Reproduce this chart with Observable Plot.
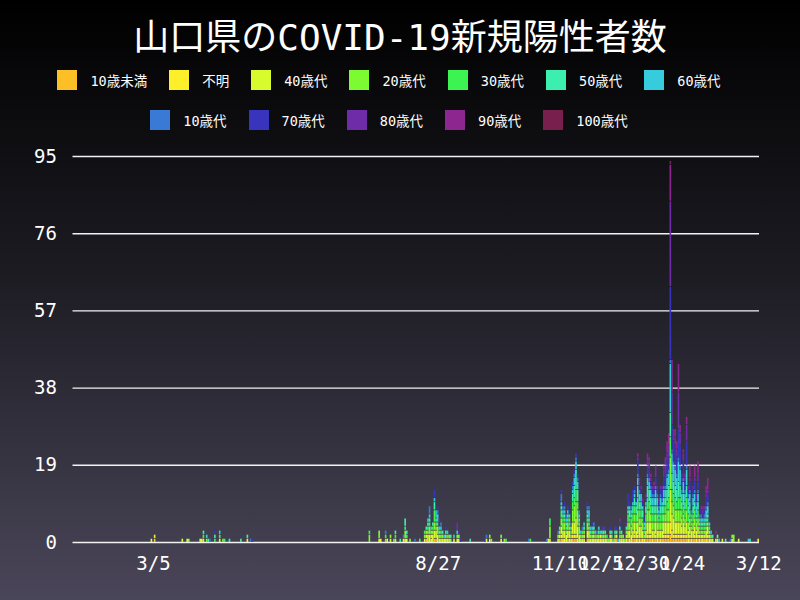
<!DOCTYPE html>
<html><head><meta charset="utf-8">
<script src="https://cdn.jsdelivr.net/npm/d3@7"></script>
<script src="https://cdn.jsdelivr.net/npm/@observablehq/plot@0.6"></script>
<style>
body{margin:0;width:800px;height:600px;overflow:hidden;background:linear-gradient(to bottom,#000000 0%,#1c1b22 45%,#4a4659 100%);font-family:"DejaVu Sans Mono","Noto Sans CJK JP",monospace;color:#fff;position:relative}
#title{position:absolute;top:18px;left:0;width:800px;text-align:center;font-size:36px;line-height:40px;white-space:nowrap}
.row{position:absolute;left:0;width:800px;display:flex;justify-content:center;align-items:center;height:20px}
.item{display:flex;align-items:center;margin-right:22px;font-size:13.5px}
.sw{width:20px;height:20px;margin-right:13px}
#chart{position:absolute;top:140px;left:0}
</style></head><body>
<div id="title">山口県のCOVID-19新規陽性者数</div>
<div class="row" id="leg1" style="top:70px"></div>
<div class="row" id="leg2" style="top:110px"></div>
<div id="chart"></div>
<script>
const groups = ["10歳未満","不明","40歳代","20歳代","30歳代","50歳代","60歳代","10歳代","70歳代","80歳代","90歳代","100歳代"];
const colors = ["#fcbf26","#fdf02a","#d7fb2c","#7cfa32","#3bf452","#3cefae","#37cbde","#3a79d4","#3934bd","#6e2ca8","#8e2690","#781f4e"];
const yTicks = [0,19,38,57,76,95];
const xTicks = ["2020-03-05","2020-08-27","2020-11-10","2020-12-05","2020-12-30","2021-01-24","2021-03-12"];
const firstDay = "2020-01-16", lastDay = "2021-03-12";

// each row: date, then counts in the order of `groups`
const spring2020 = [
["2020-03-04",0,1,0,0,0,0,0,0,0,0,0,0],
["2020-03-06",1,0,1,0,0,0,0,0,0,0,0,0],
["2020-03-23",0,0,1,0,0,0,0,0,0,0,0,0],
["2020-03-26",0,0,1,0,0,0,0,0,0,0,0,0],
["2020-03-27",0,0,0,1,0,0,0,0,0,0,0,0],
["2020-04-03",0,0,1,0,0,0,0,0,0,0,0,0],
["2020-04-04",0,0,1,0,0,0,0,0,0,0,0,0],
["2020-04-05",0,0,1,0,1,1,0,0,0,0,0,0],
["2020-04-07",0,0,0,1,0,0,1,0,0,0,0,0],
["2020-04-08",0,0,0,0,0,1,0,0,0,0,0,0],
["2020-04-09",0,0,0,0,0,0,0,1,0,0,0,0],
["2020-04-12",0,0,0,0,1,1,0,0,1,0,0,0],
["2020-04-15",0,0,1,0,1,0,1,0,0,0,0,0],
["2020-04-17",0,0,0,1,0,0,0,0,0,0,0,0],
["2020-04-18",0,0,0,0,1,0,0,0,0,0,0,0],
["2020-04-21",0,0,0,0,0,1,0,0,0,0,0,0],
["2020-04-28",0,0,0,0,0,1,0,0,0,0,0,0],
["2020-05-02",0,1,0,0,0,1,0,0,0,0,0,0],
["2020-05-04",0,0,0,0,0,0,0,1,0,0,0,0],
["2020-05-05",0,0,0,0,0,0,0,0,1,0,0,0]];

const summer2020 = [
["2020-07-16",0,0,0,2,1,0,0,0,0,0,0,0],
["2020-07-22",0,0,1,2,0,0,0,0,0,0,0,0],
["2020-07-23",0,0,1,0,0,0,0,0,0,0,0,0],
["2020-07-26",0,0,0,1,1,0,0,1,0,0,0,0],
["2020-07-27",0,1,0,0,0,0,0,0,0,0,0,0],
["2020-07-29",0,0,1,1,0,0,0,0,0,0,0,0],
["2020-07-31",0,0,0,0,1,0,0,0,0,0,0,0],
["2020-08-01",0,0,1,0,1,1,0,0,0,0,0,0],
["2020-08-04",0,0,0,0,0,1,0,0,0,0,0,0],
["2020-08-06",0,1,0,0,0,0,0,1,0,0,0,0],
["2020-08-07",0,0,1,2,1,2,0,0,0,0,0,0],
["2020-08-08",0,0,1,0,1,1,0,0,0,0,0,0],
["2020-08-10",0,0,0,1,0,0,0,0,0,0,0,0],
["2020-08-13",0,0,0,0,0,0,0,1,0,0,0,0],
["2020-08-16",0,0,0,0,1,0,0,0,0,0,0,0],
["2020-08-19",0,0,1,1,1,0,0,0,0,0,0,0],
["2020-08-20",1,0,1,1,0,1,0,0,0,0,0,0],
["2020-08-21",0,0,2,1,1,1,1,0,0,0,0,0],
["2020-08-22",0,0,2,2,1,1,1,2,0,0,0,0],
["2020-08-23",0,1,1,1,0,0,1,0,0,0,0,0],
["2020-08-24",0,0,2,1,1,1,0,0,0,0,0,0],
["2020-08-25",1,0,2,2,3,2,1,0,2,0,0,0],
["2020-08-26",1,0,2,1,1,1,2,0,0,0,0,0],
["2020-08-27",0,0,2,2,1,0,2,1,1,0,0,0],
["2020-08-28",0,0,1,1,0,1,1,0,1,1,0,0],
["2020-08-29",0,0,1,1,1,0,1,1,0,0,0,0],
["2020-08-30",0,0,1,1,0,1,0,0,0,0,0,0],
["2020-08-31",0,0,1,0,0,0,1,0,0,0,0,0],
["2020-09-01",0,0,1,1,0,1,0,0,1,0,0,0],
["2020-09-02",0,0,1,0,1,0,1,0,0,0,0,0],
["2020-09-03",0,0,1,1,0,0,0,0,0,0,0,0],
["2020-09-04",0,0,0,1,0,1,0,0,0,0,0,0],
["2020-09-06",0,0,1,0,0,0,1,0,0,0,0,0],
["2020-09-08",0,0,1,1,0,0,1,0,0,2,0,0],
["2020-09-09",0,0,1,1,0,0,0,0,1,0,0,0],
["2020-09-10",0,0,0,0,0,0,0,0,1,0,0,0]];

const autumn2020 = [
["2020-09-16",0,0,0,0,0,1,0,0,0,0,0,0],
["2020-09-25",0,0,0,0,0,0,0,0,1,0,0,0],
["2020-09-26",0,0,1,0,0,0,0,1,0,0,0,0],
["2020-09-28",0,1,0,1,0,0,0,0,0,0,0,0],
["2020-09-29",0,0,0,1,0,0,0,0,0,0,0,0],
["2020-10-05",0,0,1,1,0,0,0,0,0,0,0,0],
["2020-10-07",0,0,0,1,0,0,0,0,0,0,0,0],
["2020-10-08",0,0,0,0,1,0,0,0,0,0,0,0],
["2020-10-22",0,0,0,0,0,0,0,1,0,0,0,0],
["2020-10-23",0,0,0,0,1,0,0,0,0,0,0,0]];

const nov2020 = [
["2020-11-02",0,0,0,0,0,0,0,1,0,0,0,0],
["2020-11-03",0,0,1,0,0,0,0,0,0,0,0,0],
["2020-11-04",0,0,1,3,2,0,0,0,0,0,0,0],
["2020-11-09",0,0,1,1,0,0,0,1,0,0,0,0],
["2020-11-10",1,0,1,1,0,1,0,0,0,0,0,0],
["2020-11-11",1,1,2,2,2,1,1,2,1,0,0,0],
["2020-11-12",0,1,2,2,1,1,1,1,0,0,0,0],
["2020-11-13",0,1,2,2,1,1,1,1,1,0,0,0],
["2020-11-14",0,0,2,1,1,1,1,1,0,0,0,0],
["2020-11-15",1,0,2,2,1,1,1,0,1,0,0,0],
["2020-11-16",0,1,2,1,1,1,1,0,1,0,0,0],
["2020-11-17",0,0,1,1,1,1,0,1,0,0,0,0],
["2020-11-18",1,1,3,3,2,2,1,1,1,0,0,0],
["2020-11-19",1,1,3,4,2,3,2,1,1,0,0,0],
["2020-11-20",1,1,4,4,3,5,2,1,1,0,0,0],
["2020-11-21",0,1,3,4,2,3,2,1,1,0,0,0],
["2020-11-22",0,0,2,2,1,1,1,1,0,0,0,0],
["2020-11-23",0,0,1,1,0,0,1,0,0,0,0,0],
["2020-11-24",0,0,1,1,1,0,0,1,0,0,0,0],
["2020-11-25",0,1,1,1,0,1,1,0,0,0,0,0],
["2020-11-27",1,0,2,2,1,1,1,1,1,0,0,0],
["2020-11-28",0,1,2,1,1,1,2,1,0,0,0,0],
["2020-11-29",0,0,1,1,0,1,1,0,0,0,0,0],
["2020-11-30",0,0,1,1,1,0,1,0,1,0,0,0]];

const dec2020 = [
["2020-12-01",0,1,1,1,0,1,0,1,0,0,0,0],
["2020-12-02",0,0,1,0,1,0,1,0,0,0,0,0],
["2020-12-03",0,0,1,1,0,0,0,1,0,0,0,0],
["2020-12-04",0,0,1,1,0,1,1,0,0,0,0,0],
["2020-12-05",0,1,1,0,0,0,1,0,0,0,0,0],
["2020-12-06",0,0,1,1,0,1,0,0,1,0,0,0],
["2020-12-07",0,0,1,1,0,1,0,0,0,0,1,0],
["2020-12-08",0,0,1,1,0,1,0,0,1,0,0,0],
["2020-12-09",0,0,1,0,1,0,0,0,0,0,0,0],
["2020-12-10",0,0,0,1,0,0,0,0,0,0,0,0],
["2020-12-11",0,1,1,0,0,1,0,0,1,0,0,0],
["2020-12-12",0,0,1,0,0,1,1,0,0,0,0,0],
["2020-12-13",0,0,0,0,1,0,0,0,0,0,0,0],
["2020-12-14",0,0,1,1,0,1,0,0,0,1,0,0],
["2020-12-15",1,0,1,0,0,1,0,0,1,0,0,0],
["2020-12-16",0,0,0,0,0,0,1,0,0,0,0,0],
["2020-12-17",0,0,1,1,1,1,0,0,1,0,1,0],
["2020-12-18",0,0,1,1,0,1,0,0,1,0,0,0],
["2020-12-19",0,0,1,1,0,0,0,0,0,0,0,0],
["2020-12-20",0,0,0,1,0,0,0,0,0,0,0,0],
["2020-12-21",0,1,1,1,0,1,0,0,0,1,0,0],
["2020-12-22",1,0,2,2,2,1,1,0,3,0,0,0],
["2020-12-23",0,1,2,2,1,2,1,0,1,0,0,0],
["2020-12-24",0,0,2,2,2,1,1,1,0,0,0,0],
["2020-12-25",1,0,2,2,2,2,1,0,3,0,0,0],
["2020-12-26",1,1,3,2,2,2,1,1,1,0,0,0],
["2020-12-27",0,1,2,2,2,2,1,0,1,0,0,0],
["2020-12-28",1,1,3,3,3,3,2,1,3,1,1,0],
["2020-12-29",0,1,3,2,2,2,2,1,1,1,1,0],
["2020-12-30",1,0,3,2,2,2,2,0,1,1,0,0],
["2020-12-31",0,1,2,2,1,2,1,0,1,1,0,0]];

const jan2021 = [
["2021-01-01",0,0,1,1,1,1,1,0,1,0,0,0],
["2021-01-02",1,0,2,2,2,2,1,0,1,1,0,0],
["2021-01-03",1,1,3,3,3,3,2,1,2,1,2,0],
["2021-01-04",1,1,3,3,2,3,2,1,2,2,1,0],
["2021-01-05",1,1,3,2,2,2,2,1,1,1,1,0],
["2021-01-06",0,1,2,2,2,2,2,1,1,1,0,0],
["2021-01-07",1,0,2,2,2,2,2,1,1,1,1,0],
["2021-01-08",1,1,3,2,2,2,2,1,2,3,0,0],
["2021-01-09",0,1,2,2,2,2,2,1,1,1,0,0],
["2021-01-10",1,0,2,2,1,1,1,1,1,1,0,0],
["2021-01-11",0,1,2,2,2,2,2,1,1,1,0,0],
["2021-01-12",1,0,2,2,2,2,1,1,2,1,0,0],
["2021-01-13",1,1,3,2,2,2,2,1,2,2,1,0],
["2021-01-14",1,1,3,2,2,2,2,1,3,2,2,0],
["2021-01-15",1,1,3,3,2,3,3,1,3,2,3,0],
["2021-01-16",1,1,3,3,3,3,3,1,3,3,3,0],
["2021-01-17",2,3,8,8,5,6,12,1,18,21,9,1],
["2021-01-18",1,2,4,3,3,4,5,1,6,8,8,0],
["2021-01-19",1,1,4,3,3,3,4,1,5,3,0,0],
["2021-01-20",1,1,3,3,3,3,4,1,5,2,2,0],
["2021-01-21",1,1,3,3,2,3,3,1,4,2,2,0],
["2021-01-22",1,1,3,3,3,4,5,1,7,9,7,0],
["2021-01-23",1,1,3,3,3,3,4,1,5,3,2,0],
["2021-01-24",1,1,2,2,2,2,2,1,2,1,1,0],
["2021-01-25",1,1,3,2,2,3,3,1,4,2,1,0],
["2021-01-26",1,1,2,2,2,2,2,1,2,1,1,0],
["2021-01-27",1,1,3,3,3,3,4,1,6,4,2,0],
["2021-01-28",0,1,2,2,2,2,2,1,1,1,0,0],
["2021-01-29",1,1,2,2,2,2,2,1,2,1,3,0],
["2021-01-30",0,1,2,1,1,1,1,1,1,1,1,0],
["2021-01-31",1,0,2,2,2,2,2,1,1,1,0,0]];

const febmar2021 = [
["2021-02-01",1,1,2,2,2,2,2,1,2,1,3,0],
["2021-02-02",0,1,2,2,1,1,2,1,1,1,0,0],
["2021-02-03",1,1,2,2,2,2,2,1,2,2,3,0],
["2021-02-04",0,1,1,1,1,1,1,1,1,0,0,0],
["2021-02-05",1,0,1,1,1,1,1,1,1,1,0,0],
["2021-02-06",0,1,1,1,1,1,1,0,1,1,1,0],
["2021-02-07",1,0,1,1,1,1,1,1,1,1,0,0],
["2021-02-08",0,1,2,1,1,1,2,1,2,1,2,0],
["2021-02-09",1,1,2,1,1,1,2,1,2,1,3,0],
["2021-02-10",0,1,1,1,1,0,1,0,1,0,0,0],
["2021-02-11",0,0,1,1,0,0,1,0,0,0,0,0],
["2021-02-12",0,0,1,0,0,1,0,0,0,0,0,0],
["2021-02-14",0,0,1,0,0,0,0,0,1,0,1,0],
["2021-02-15",0,0,1,1,0,0,0,0,0,0,0,0],
["2021-02-16",0,0,0,0,0,0,1,0,0,0,0,0],
["2021-02-18",0,0,1,0,0,0,0,0,0,0,0,0],
["2021-02-20",0,0,0,0,0,1,0,0,0,0,0,0],
["2021-02-23",0,0,0,0,0,0,0,1,0,0,0,0],
["2021-02-24",0,0,1,1,0,0,0,0,0,0,0,0],
["2021-02-25",0,0,0,2,0,0,0,0,0,0,0,0],
["2021-02-28",0,0,1,0,0,0,0,0,0,0,0,0],
["2021-03-06",0,0,0,0,0,0,1,0,0,0,0,0],
["2021-03-07",0,0,0,0,0,1,0,0,0,0,0,0],
["2021-03-12",0,1,0,0,0,0,0,0,0,0,0,0]];

// legend
function addItem(row, i){
  const it = document.createElement("div"); it.className = "item";
  const sw = document.createElement("div"); sw.className = "sw"; sw.style.background = colors[i];
  const tx = document.createElement("span"); tx.textContent = groups[i];
  it.appendChild(sw); it.appendChild(tx); row.appendChild(it);
}
const leg1 = document.getElementById("leg1"), leg2 = document.getElementById("leg2");
groups.forEach((g,i) => addItem(i < 7 ? leg1 : leg2, i));

const fmt = d3.utcFormat("%Y-%m-%d");
const allDays = d3.utcDay.range(new Date(firstDay+"T00:00:00Z"), new Date(lastDay+"T00:00:01Z")).map(fmt);
const rows = [...spring2020, ...summer2020, ...autumn2020, ...nov2020, ...dec2020, ...jan2021, ...febmar2021];
const data = rows.flatMap(([day, ...counts]) => counts.map((c,i) => ({day, group: groups[i], count: c}))).filter(d => d.count > 0);
const md = s => { const [y,m,d] = s.split("-"); return `${+m}/${+d}`; };

const chart = Plot.plot({
  width: 800, height: 460,
  marginLeft: 72.5, marginRight: 41, marginTop: 16, marginBottom: 58,
  style: {background: "transparent", color: "white", fontFamily: "DejaVu Sans Mono, Noto Sans CJK JP, monospace", overflow: "visible"},
  x: {type: "band", domain: allDays, padding: 0, round: false, axis: null},
  y: {domain: [0, 95], axis: null},
  color: {domain: groups, range: colors},
  marks: [
    Plot.ruleY(yTicks, {stroke: "#f2f2f2", strokeWidth: 1.4}),
    Plot.barY(data, {x: "day", y: "count", fill: "group", insetTop: 0.8}),
    Plot.text(yTicks, {y: d => d, frameAnchor: "left", dx: -16, textAnchor: "end", text: d => String(d), fill: "white", fontSize: 19}),
    Plot.text(xTicks, {x: d => d, frameAnchor: "bottom", dy: 27, text: md, fill: "white", fontSize: 19})
  ]
});
document.getElementById("chart").appendChild(chart);
</script>
</body></html>
